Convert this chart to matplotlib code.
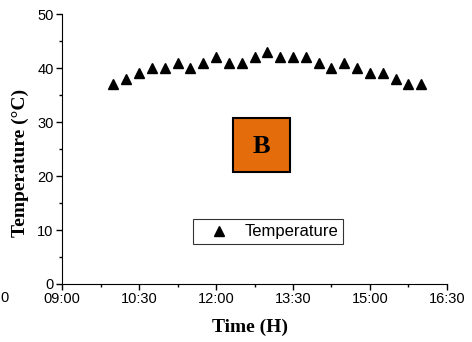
import matplotlib.pyplot as plt
from matplotlib.ticker import MultipleLocator, FuncFormatter
from matplotlib.patches import Rectangle

times = ['10:00', '10:15', '10:30', '10:45', '11:00', '11:15', '11:30', '11:45',
         '12:00', '12:15', '12:30', '12:45', '13:00', '13:15', '13:30', '13:45',
         '14:00', '14:15', '14:30', '14:45', '15:00', '15:15', '15:30', '15:45', '16:00']
temperature = [37, 38, 39, 40, 40, 41, 40, 41, 42, 41, 41, 42, 43,
               42, 42, 42, 41, 40, 41, 40, 39, 39, 38, 37, 37]
xticks = ['09:00', '10:30', '12:00', '13:30', '15:00', '16:30']


def to_hours(s):
    h, m = s.split(':')
    return int(h) + int(m) / 60.0


def hhmm(v, pos=None):
    h = int(v)
    m = int(round((v - h) * 60))
    return '%02d:%02d' % (h, m)


x = [to_hours(t) for t in times]

plt.rcParams['font.family'] = ['Liberation Sans', 'DejaVu Sans']
fig = plt.figure(figsize=(4.72, 3.42), dpi=100)
ax = fig.add_axes([0.1314, 0.1696, 0.8156, 0.7894])

ax.plot(x, temperature, linestyle='none', marker='^', color='black',
        markersize=7, label='Temperature')

ax.set_xlim(to_hours(xticks[0]), to_hours(xticks[-1]))
ax.set_ylim(0, 50)
ax.set_xticks([to_hours(t) for t in xticks])
ax.xaxis.set_major_formatter(FuncFormatter(hhmm))
ax.xaxis.set_minor_locator(MultipleLocator(0.75))
ax.yaxis.set_major_locator(MultipleLocator(10))
ax.yaxis.set_minor_locator(MultipleLocator(5))
ax.tick_params(which='major', direction='out', length=4, width=1, labelsize=10.5, pad=2)
ax.tick_params(which='minor', direction='out', length=2.5, width=1)
for s in ['top', 'right']:
    ax.spines[s].set_visible(False)

serif = {'family': 'Liberation Serif', 'weight': 'bold', 'size': 14}
ax.set_xlabel('Time (H)', fontdict=serif)
ax.set_ylabel('Temperature (°C)', fontdict=serif)
ax.xaxis.set_label_coords(0.489, -0.129)
ax.yaxis.set_label_coords(-0.087, 0.448)

# orange "B" label box
ax.add_patch(Rectangle((12.33, 20.7), 1.11, 10.0, facecolor='#E46C0A',
                       edgecolor='black', linewidth=1.5, zorder=3))
ax.text(12.885, 25.5, 'B', ha='center', va='center', zorder=4,
        fontdict={'family': 'Liberation Serif', 'weight': 'bold', 'size': 19})

leg = ax.legend(loc='center', bbox_to_anchor=(0.535, 0.193), frameon=True,
                fancybox=False, edgecolor='black', fontsize=12,
                handlelength=2.6, borderpad=0.3, handletextpad=0.2)
leg.get_frame().set_linewidth(0.8)

# tick label partly outside the original picture, at the left edge
fig.text(0.0, 0.128, '0', fontsize=10.5, ha='left', va='center')

fig.savefig('out.png', dpi=100)
